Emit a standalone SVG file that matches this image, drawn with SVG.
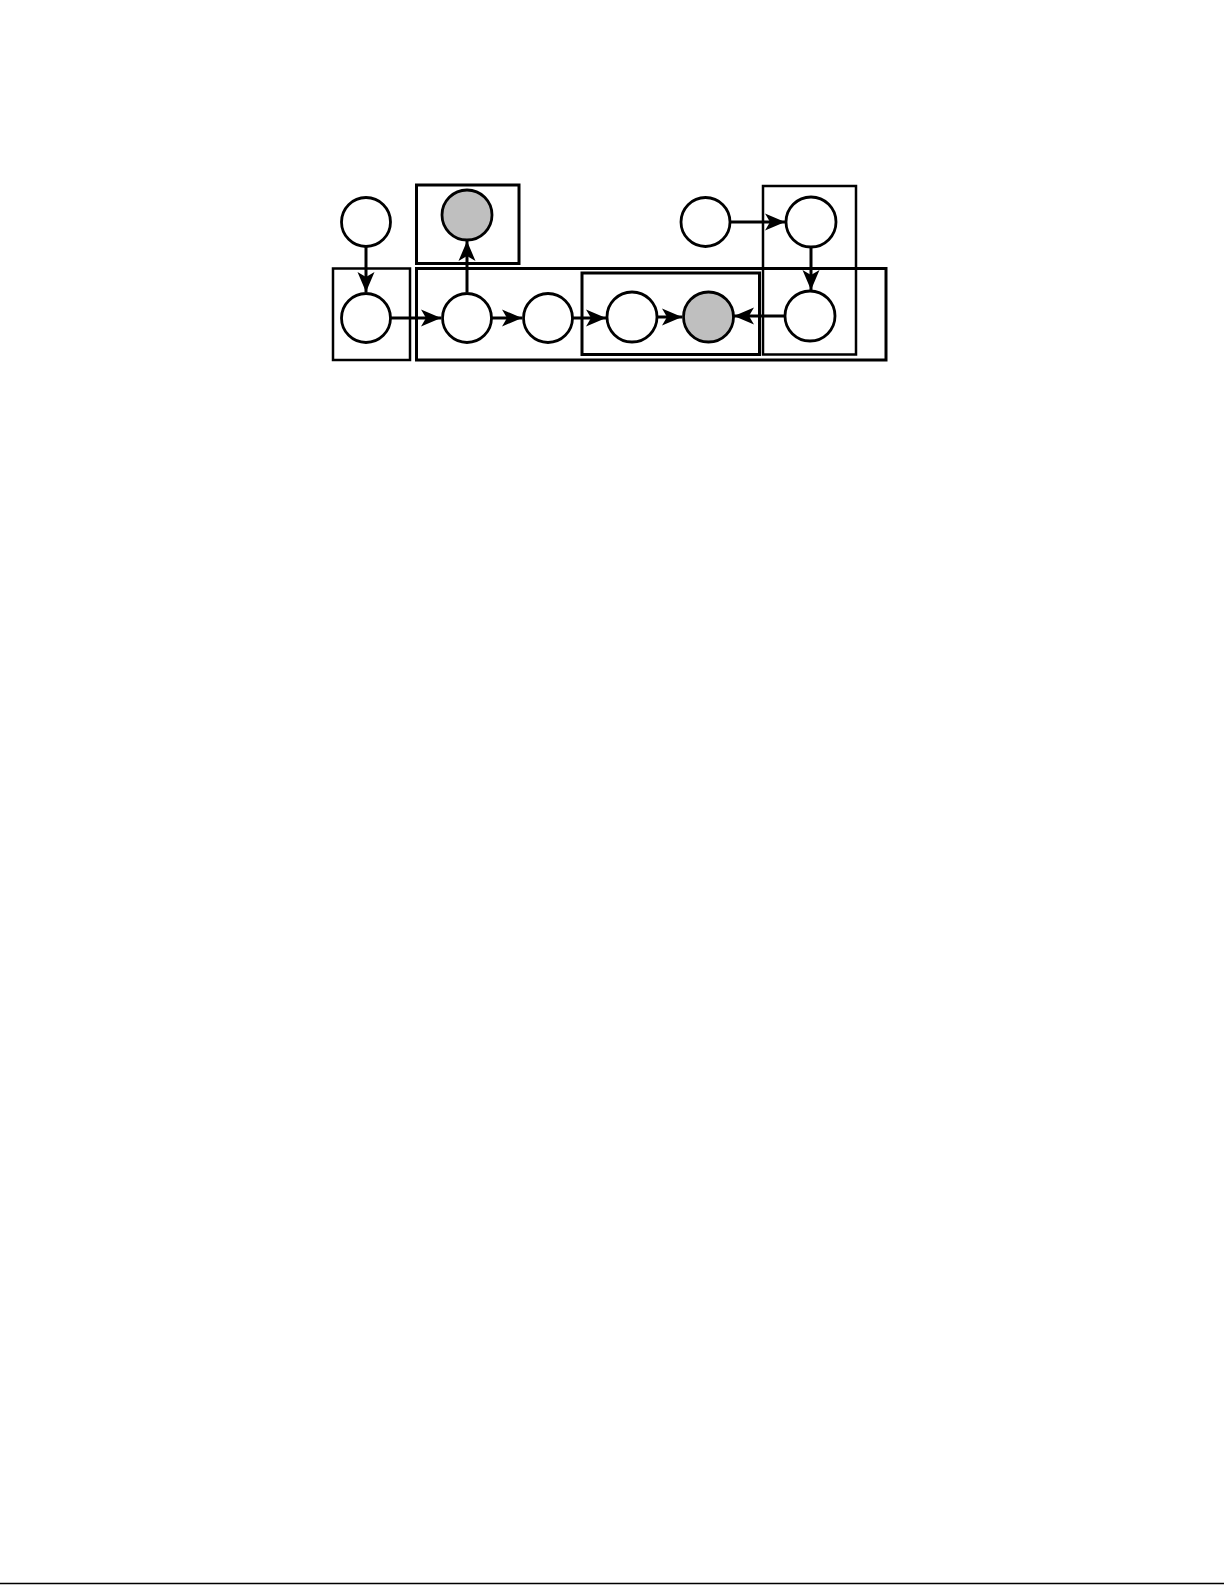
<svg xmlns="http://www.w3.org/2000/svg" width="1225" height="1585" viewBox="0 0 1225 1585">
<style>
.n{fill:#fff;stroke:#000;stroke-width:2.8}
.g{fill:#bfbfbf;stroke:#000;stroke-width:2.8}
.b{fill:none;stroke:#000;stroke-width:2.5}
.bt{fill:none;stroke:#000;stroke-width:3}
.e{fill:none;stroke:#000;stroke-width:3;marker-end:url(#ah)}
</style>
<defs>
<marker id="ah" markerUnits="userSpaceOnUse" markerWidth="22" markerHeight="20" viewBox="0 0 22 20" refX="20" refY="10" orient="auto">
<path d="M0,1.5 L20,10 L0,18.5 L5,10 Z" fill="#000"/>
</marker>
</defs>
<rect width="1225" height="1585" fill="#fff"/>
<g id="groups">
<rect id="box-topgrey" class="bt" x="416.5" y="185" width="102.5" height="78.5"/>
<rect id="box-left" class="b" x="333" y="268.5" width="77" height="91.5"/>
<rect id="box-main" class="bt" x="416.5" y="268.5" width="469.5" height="91.5"/>
<rect id="box-inner" class="bt" x="582" y="273" width="177.5" height="81.5"/>
<rect id="box-right" class="b" x="763" y="186" width="93" height="168.5"/>
</g>
<g id="connectors">
<line class="e" x1="366" y1="247" x2="366" y2="292"/>
<line class="e" x1="391" y1="318" x2="441" y2="318"/>
<line class="e" x1="467" y1="292" x2="467" y2="241"/>
<line class="e" x1="492" y1="318" x2="522" y2="318"/>
<line class="e" x1="573" y1="318" x2="606" y2="318"/>
<line class="e" x1="658" y1="317" x2="682" y2="317"/>
<line class="e" x1="785" y1="316" x2="734" y2="316"/>
<line class="e" x1="731" y1="222" x2="785" y2="222"/>
<line class="e" x1="811" y1="247" x2="811" y2="290"/>
</g>
<g id="n1"><circle class="n" cx="366" cy="222" r="24.5"/></g>
<g id="n2"><circle class="g" cx="467" cy="215" r="25"/></g>
<g id="n3"><circle class="n" cx="366" cy="318" r="24.5"/></g>
<g id="n4"><circle class="n" cx="467" cy="318" r="24.5"/></g>
<g id="n5"><circle class="n" cx="548" cy="318" r="24.5"/></g>
<g id="n6"><circle class="n" cx="632" cy="317" r="25"/></g>
<g id="n7"><circle class="g" cx="708.5" cy="317" r="25"/></g>
<g id="n8"><circle class="n" cx="810" cy="316" r="25"/></g>
<g id="n9"><circle class="n" cx="705.5" cy="222" r="24.5"/></g>
<g id="n10"><circle class="n" cx="811" cy="222" r="25"/></g>
<line x1="0" y1="1583.5" x2="1224" y2="1583.5" stroke="#000" stroke-width="1.5"/>
</svg>
